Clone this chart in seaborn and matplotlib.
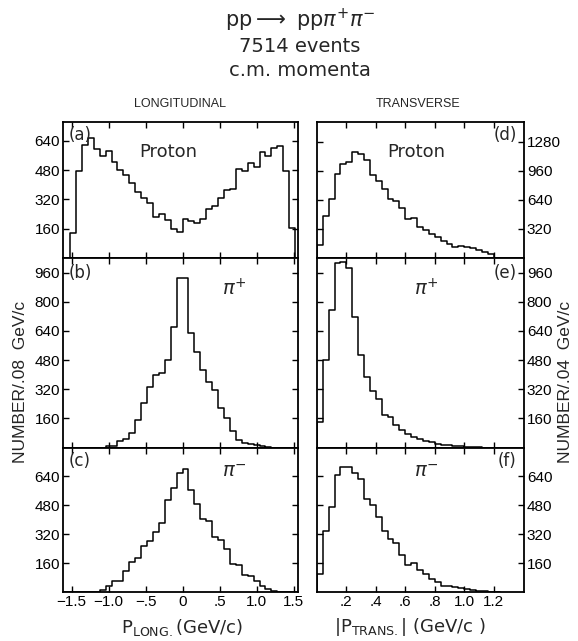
import numpy as np
import pandas as pd
import matplotlib
matplotlib.use("Agg")
import matplotlib.pyplot as plt
import seaborn as sns

# ---------------- data ----------------
# Longitudinal momentum, bins of 0.08 GeV/c from -1.52 to 1.52
long_lo, long_w, long_n = -1.52, 0.08, 38
proton_long = [134, 473, 620, 657, 596, 556, 583, 524, 479, 451, 409, 358, 330, 303,
               226, 240, 208, 156, 143, 213, 204, 193, 211, 266, 285, 330, 372, 378,
               486, 477, 519, 500, 579, 559, 601, 614, 477, 162]
piplus_long = [0, 0, 0, 0, 0, 0, 8, 8, 36, 48, 78, 149, 246, 331, 397, 410, 478, 663,
               928, 928, 629, 525, 423, 359, 313, 215, 160, 90, 41, 27, 17, 12, 8, 5,
               0, 0, 0, 0]
piminus_long = [0, 0, 0, 0, 3, 12, 34, 61, 61, 116, 166, 190, 254, 282, 331, 383, 511,
                575, 658, 680, 566, 489, 404, 392, 305, 290, 236, 155, 150, 98, 89, 61,
                34, 16, 5, 0, 0, 0]
# Transverse momentum, bins of 0.04 GeV/c from 0 to 1.20
trans_lo, trans_w, trans_n = 0.0, 0.04, 30
proton_trans = [138, 462, 651, 918, 1038, 1053, 1170, 1139, 1078, 910, 850, 755, 651,
                623, 550, 426, 438, 343, 308, 262, 229, 188, 159, 125, 136, 121, 106,
                84, 66, 40]
piplus_trans = [139, 481, 755, 1010, 1020, 985, 716, 505, 388, 310, 268, 180, 165, 122,
                95, 75, 60, 47, 37, 28, 20, 16, 11, 8, 6, 4, 4, 2, 0, 0]
piminus_trans = [98, 340, 469, 643, 689, 689, 658, 625, 515, 483, 414, 340, 291, 269,
                 208, 153, 159, 122, 98, 74, 56, 37, 34, 28, 21, 16, 10, 8, 5, 3]

long_ticks = [-1.5, -1.0, -0.5, 0, 0.5, 1.0, 1.5]
long_ticklabels = ["\u22121.5", "\u22121.0", "\u2212.5", "0", ".5", "1.0", "1.5"]
trans_ticks = [0.2, 0.4, 0.6, 0.8, 1.0, 1.2]
trans_ticklabels = [".2", ".4", ".6", ".8", "1.0", "1.2"]

panel_letters = ["(a)", "(b)", "(c)", "(d)", "(e)", "(f)"]
particle_names = ["Proton", r"$\pi^{+}$", r"$\pi^{-}$"]

# ---------------- style ----------------
sns.set_theme(style="white")
plt.rcParams["font.family"] = ["Liberation Sans Narrow", "Liberation Sans", "DejaVu Sans"]
plt.rcParams["mathtext.fontset"] = "dejavusans"
plt.rcParams["axes.linewidth"] = 1.3

W, H = 578, 641
fig = plt.figure(figsize=(W / 100, H / 100), dpi=100)
fig.patch.set_facecolor("white")


def ax_px(x0, x1, ytop, ybot):
    return fig.add_axes([x0 / W, 1 - ybot / H, (x1 - x0) / W, (ybot - ytop) / H])


rows = [(121.5, 258), (258, 447.5), (447.5, 592.3)]
left_cols = (62.7, 298)
right_cols = (316.9, 524)

long_ylims = [746, 1040, 798]
trans_ylims = [1500, 1040, 797]
long_yticks = [[160, 320, 480, 640], [160, 320, 480, 640, 800, 960], [160, 320, 480, 640]]
trans_yticks = [[320, 640, 960, 1280], [160, 320, 480, 640, 800, 960], [160, 320, 480, 640]]

long_data = [proton_long, piplus_long, piminus_long]
trans_data = [proton_trans, piplus_trans, piminus_trans]


def draw_hist(ax, counts, lo, w, n):
    # pad with one empty bin on each side so the outline drops to the baseline
    edges = [float(lo + w * k) for k in range(-1, n + 2)]
    centers = [(a + b) / 2 for a, b in zip(edges[:-1], edges[1:])]
    weights = [0.0] + [float(c) for c in counts] + [0.0]
    df = pd.DataFrame({"p": centers, "n": weights})
    sns.histplot(data=df, x="p", weights="n", bins=edges, element="step",
                 fill=False, color="black", linewidth=1.1, ax=ax)


tick_fs = 11
for r, (yt, yb) in enumerate(rows):
    # longitudinal (left column)
    ax = ax_px(left_cols[0], left_cols[1], yt, yb)
    draw_hist(ax, long_data[r], long_lo, long_w, long_n)
    ax.set_xlim(-1.62, 1.56)
    ax.set_ylim(0, long_ylims[r])
    ax.set_yticks(long_yticks[r])
    ax.set_yticklabels([str(v) for v in long_yticks[r]], fontsize=tick_fs)
    ax.set_xticks(long_ticks)
    if r == 2:
        ax.set_xticklabels(long_ticklabels, fontsize=tick_fs)
    else:
        ax.set_xticklabels([])
    ax.tick_params(direction="in", length=4, width=1.0, top=True, right=True,
                   left=True, bottom=True, labelleft=True, labelright=False, pad=2,
                   colors="black")
    ax.set_xlabel("")
    ax.set_ylabel("")
    for s in ax.spines.values():
        s.set_color("black")
    ax.text(0.025, 0.97, panel_letters[r], transform=ax.transAxes, ha="left",
            va="top", fontsize=12, family="DejaVu Sans")
    if r == 0:
        ax.text(0.45, 0.78, particle_names[r], transform=ax.transAxes, ha="center",
                va="center", fontsize=13, family="DejaVu Sans")
    else:
        ax.text(0.73, 0.84 if r == 1 else 0.83, particle_names[r], transform=ax.transAxes,
                ha="center", va="center", fontsize=14)

    # transverse (right column)
    ax = ax_px(right_cols[0], right_cols[1], yt, yb)
    draw_hist(ax, trans_data[r], trans_lo, trans_w, trans_n)
    ax.set_xlim(0, 1.406)
    ax.set_ylim(0, trans_ylims[r])
    ax.set_yticks(trans_yticks[r])
    ax.set_yticklabels([str(v) for v in trans_yticks[r]], fontsize=tick_fs)
    ax.set_xticks(trans_ticks)
    if r == 2:
        ax.set_xticklabels(trans_ticklabels, fontsize=tick_fs)
    else:
        ax.set_xticklabels([])
    ax.tick_params(direction="in", length=4, width=1.0, top=True, right=True,
                   left=True, bottom=True, labelleft=False, labelright=True, pad=2,
                   colors="black")
    ax.set_xlabel("")
    ax.set_ylabel("")
    for s in ax.spines.values():
        s.set_color("black")
    ax.text(0.965, 0.97, panel_letters[r + 3], transform=ax.transAxes, ha="right",
            va="top", fontsize=12, family="DejaVu Sans")
    if r == 0:
        ax.text(0.48, 0.78, particle_names[r], transform=ax.transAxes, ha="center",
                va="center", fontsize=13, family="DejaVu Sans")
    else:
        ax.text(0.53, 0.84 if r == 1 else 0.83, particle_names[r], transform=ax.transAxes,
                ha="center", va="center", fontsize=14)

# ---------------- titles and labels ----------------
def fig_text(x, y, s, **kw):
    fig.text(x / W, 1 - y / H, s, **kw)

fig_text(300, 20, r"pp$\longrightarrow$ pp$\pi^{+}\pi^{-}$", ha="center", va="center",
         fontsize=15, family="DejaVu Sans")
fig_text(300, 47, "7514 events", ha="center", va="center", fontsize=14,
         family="DejaVu Sans")
fig_text(300, 70, "c.m. momenta", ha="center", va="center", fontsize=14,
         family="DejaVu Sans")
fig_text(180, 104, "LONGITUDINAL", ha="center", va="center", fontsize=9)
fig_text(418, 104, "TRANSVERSE", ha="center", va="center", fontsize=9)

fig_text(21, 382, "NUMBER/.08  GeV/c", ha="center", va="center", rotation=90,
         fontsize=12.5, family="Liberation Sans")
fig_text(566, 382, "NUMBER/.04  GeV/c", ha="center", va="center", rotation=90,
         fontsize=12.5, family="Liberation Sans")

fig_text(182, 627, r"P$_{\mathrm{LONG.}}$(GeV/c)", ha="center", va="center",
         fontsize=13, family="DejaVu Sans")
fig_text(410, 627, r"|P$_{\mathrm{TRANS.}}$| (GeV/c )", ha="center", va="center",
         fontsize=13, family="DejaVu Sans")

fig.savefig("out.png", dpi=100, facecolor="white")
